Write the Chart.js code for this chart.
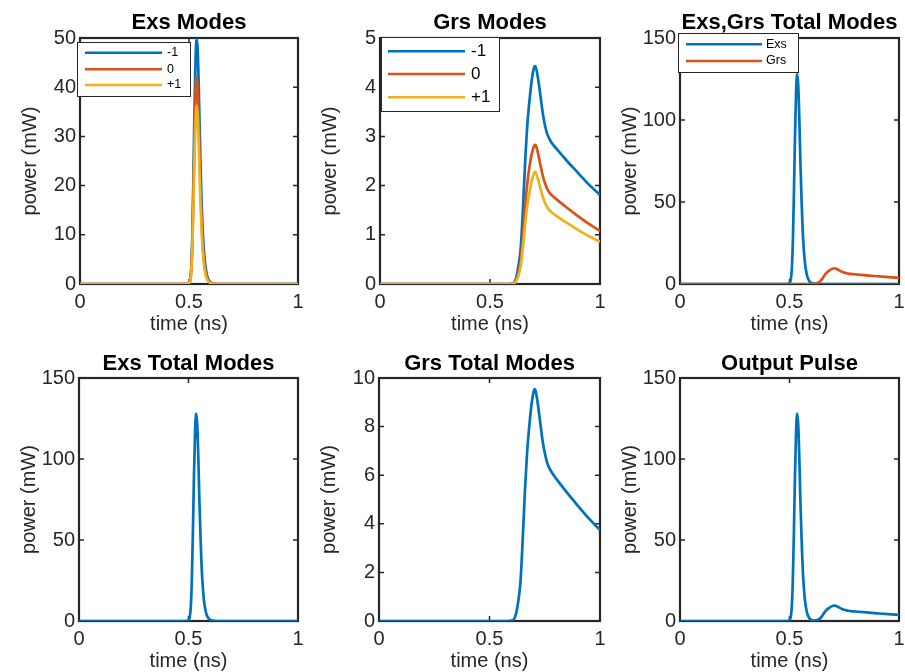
<!DOCTYPE html>
<html>
<head>
<meta charset="utf-8">
<title>Exs / Grs modes</title>
<script src="https://cdn.jsdelivr.net/npm/chart.js@4.4.1/dist/chart.umd.min.js"></script>
<style>
    html, body { margin: 0; padding: 0; background: #fff; overflow: hidden; }
    #figure { position: relative; width: 905px; height: 672px; overflow: hidden; }
    #figure canvas { position: absolute; }
</style>
</head>
<body>
<div id="figure"></div>
<script>
// time axis (ns), shared by every series
const time = [0, 0.1, 0.2, 0.3, 0.4, 0.45, 0.49,
    0.5, 0.505, 0.51, 0.515, 0.52, 0.525, 0.53, 0.535, 0.54, 0.545, 0.55, 0.555, 0.56,
    0.57, 0.58, 0.59, 0.6, 0.61, 0.62, 0.63, 0.64, 0.65, 0.66, 0.67, 0.68, 0.69, 0.7,
    0.705, 0.71, 0.72, 0.73, 0.74, 0.75, 0.76, 0.77, 0.78, 0.8, 0.85, 0.9, 0.95, 1];

// Exs modes (mW)
const exsMinus1 = [0, 0, 0, 0, 0, 0, 0,
    0.2, 0.8, 3, 9.5, 21, 35, 45.5, 49.8, 47.5, 39.5, 29.5, 21, 13.8,
    5.8, 2.3, 0.85, 0.3, 0.1, 0.03, 0, 0, 0, 0, 0, 0, 0, 0,
    0, 0, 0, 0, 0, 0, 0, 0, 0, 0, 0, 0, 0, 0];
const exsZero = [0, 0, 0, 0, 0, 0, 0,
    0.2, 0.7, 2.6, 8, 17.8, 29.5, 38.5, 42, 39.5, 32.5, 23.5, 16.3, 10.5,
    4.2, 1.6, 0.55, 0.18, 0.06, 0.02, 0, 0, 0, 0, 0, 0, 0, 0,
    0, 0, 0, 0, 0, 0, 0, 0, 0, 0, 0, 0, 0, 0];
const exsPlus1 = [0, 0, 0, 0, 0, 0, 0,
    0.2, 0.6, 2.2, 6.8, 15.2, 25.3, 33, 36.2, 34, 28, 20.3, 14, 9,
    3.5, 1.3, 0.45, 0.15, 0.05, 0.01, 0, 0, 0, 0, 0, 0, 0, 0,
    0, 0, 0, 0, 0, 0, 0, 0, 0, 0, 0, 0, 0, 0];
const exsTotal = [0, 0, 0, 0, 0, 0, 0,
    0.6, 2.1, 7.8, 24.3, 54, 89.8, 117, 128, 121, 100, 73.3, 51.3, 33.3,
    13.5, 5.2, 1.85, 0.63, 0.21, 0.06, 0, 0, 0, 0, 0, 0, 0, 0,
    0, 0, 0, 0, 0, 0, 0, 0, 0, 0, 0, 0, 0, 0];

// Grs modes (mW)
const grsMinus1 = [0, 0, 0, 0, 0, 0, 0,
    0, 0, 0, 0, 0, 0, 0, 0, 0, 0, 0, 0, 0,
    0, 0, 0, 0.01, 0.03, 0.14, 0.38, 0.75, 1.55, 2.5, 3.25, 3.75, 4.15, 4.4,
    4.43, 4.38, 4.13, 3.8, 3.47, 3.22, 3.05, 2.95, 2.87, 2.76, 2.5, 2.26, 2.02, 1.81];
const grsZero = [0, 0, 0, 0, 0, 0, 0,
    0, 0, 0, 0, 0, 0, 0, 0, 0, 0, 0, 0, 0,
    0, 0, 0, 0.006, 0.02, 0.09, 0.24, 0.48, 0.98, 1.58, 2.06, 2.4, 2.65, 2.8,
    2.83, 2.8, 2.62, 2.4, 2.2, 2.05, 1.93, 1.86, 1.81, 1.73, 1.55, 1.38, 1.22, 1.08];
const grsPlus1 = [0, 0, 0, 0, 0, 0, 0,
    0, 0, 0, 0, 0, 0, 0, 0, 0, 0, 0, 0, 0,
    0, 0, 0, 0.004, 0.01, 0.07, 0.18, 0.37, 0.77, 1.22, 1.6, 1.87, 2.1, 2.25,
    2.28, 2.24, 2.1, 1.93, 1.77, 1.65, 1.56, 1.5, 1.46, 1.39, 1.24, 1.1, 0.97, 0.86];
const grsTotal = [0, 0, 0, 0, 0, 0, 0,
    0, 0, 0, 0, 0, 0, 0, 0, 0, 0, 0, 0, 0,
    0, 0, 0, 0.02, 0.06, 0.3, 0.8, 1.6, 3.3, 5.3, 6.91, 8.02, 8.9, 9.45,
    9.54, 9.42, 8.85, 8.13, 7.44, 6.92, 6.54, 6.31, 6.14, 5.88, 5.29, 4.74, 4.21, 3.75];

// output pulse = Exs + Grs (mW)
const outputPulse = [0, 0, 0, 0, 0, 0, 0,
    0.6, 2.1, 7.8, 24.3, 54, 89.8, 117, 128, 121, 100, 73.3, 51.3, 33.3,
    13.5, 5.2, 1.85, 0.65, 0.27, 0.36, 0.8, 1.6, 3.3, 5.3, 6.91, 8.02, 8.9, 9.45,
    9.54, 9.42, 8.85, 8.13, 7.44, 6.92, 6.54, 6.31, 6.14, 5.88, 5.29, 4.74, 4.21, 3.75];

const modeLabels = ['-1', '0', '+1'];
const totalLabels = ['Exs', 'Grs'];
const xTickStep = 0.5;

const BLUE = '#0072BD';
const ORANGE = '#D95319';
const YELLOW = '#EDB120';
const INK = '#262626';
const FONT = '"Liberation Sans", Arial, Helvetica, sans-serif';

Chart.defaults.font.family = FONT;
Chart.defaults.color = INK;

// plain tick text: 0, 0.5, 1 (no trailing zeros)
const plainTick = v => String(Number(v.toFixed(3)));

// box with inward ticks on all four sides, drawn under the lines
const axesBox = {
    id: 'axesBox',
    beforeDatasetsDraw(chart) {
        const { ctx, chartArea: a, scales } = chart;
        ctx.save();
        ctx.strokeStyle = INK;
        ctx.lineWidth = 1.5;
        ctx.beginPath();
        scales.x.ticks.forEach(t => {
            const px = scales.x.getPixelForValue(t.value);
            ctx.moveTo(px, a.bottom); ctx.lineTo(px, a.bottom - 5);
            ctx.moveTo(px, a.top); ctx.lineTo(px, a.top + 5);
        });
        scales.y.ticks.forEach(t => {
            const py = scales.y.getPixelForValue(t.value);
            ctx.moveTo(a.left, py); ctx.lineTo(a.left + 5, py);
            ctx.moveTo(a.right, py); ctx.lineTo(a.right - 5, py);
        });
        ctx.stroke();
        ctx.lineWidth = 2.2;
        ctx.strokeRect(a.left, a.top, a.right - a.left, a.bottom - a.top);
        ctx.restore();
    }
};

// legend box inside the axes, like the original figure
function boxLegend(cfg) {
    return {
        id: 'boxLegend',
        afterDatasetsDraw(chart) {
            const { ctx, chartArea } = chart;
            const bx = chartArea.left + cfg.x;
            const by = chartArea.top + cfg.y;
            ctx.save();
            ctx.fillStyle = '#fff';
            ctx.fillRect(bx, by, cfg.w, cfg.h);
            ctx.strokeStyle = INK;
            ctx.lineWidth = 1;
            ctx.strokeRect(bx + 0.5, by + 0.5, cfg.w, cfg.h);
            ctx.font = cfg.fontSize + 'px ' + FONT;
            ctx.textBaseline = 'middle';
            ctx.textAlign = 'left';
            chart.data.datasets.forEach((ds, i) => {
                const ry = by + cfg.rows[i];
                ctx.strokeStyle = ds.borderColor;
                ctx.lineWidth = 2.5;
                ctx.beginPath();
                ctx.moveTo(bx + cfg.lineFrom, ry);
                ctx.lineTo(bx + cfg.lineTo, ry);
                ctx.stroke();
                ctx.fillStyle = '#000';
                ctx.fillText(ds.label, bx + cfg.textX, ry);
            });
            ctx.restore();
        }
    };
}

function makePanel(p) {
    const canvas = document.createElement('canvas');
    const width = p.w + 160;
    const height = 40 + p.h + 56;
    canvas.width = width;
    canvas.height = height;
    canvas.style.left = (p.left - 80) + 'px';
    canvas.style.top = (p.top - 40) + 'px';
    canvas.style.width = width + 'px';
    canvas.style.height = height + 'px';
    document.getElementById('figure').appendChild(canvas);

    const n = p.series.length;
    const datasets = p.series.map((s, i) => ({
        label: s.label,
        data: time.map((t, k) => ({ x: t, y: s.values[k] })),
        borderColor: s.color,
        backgroundColor: s.color,
        borderWidth: 2.7,
        pointRadius: 0,
        cubicInterpolationMode: 'monotone',
        fill: false,
        order: n - 1 - i
    }));

    const plugins = [axesBox];
    if (p.legend) plugins.push(boxLegend(p.legend));

    return new Chart(canvas, {
        type: 'line',
        data: { datasets },
        options: {
            responsive: false,
            animation: false,
            devicePixelRatio: 1,
            layout: { padding: 0 },
            plugins: {
                legend: { display: false },
                tooltip: { enabled: false },
                title: {
                    display: true,
                    text: p.title,
                    color: '#000',
                    font: { size: 22, weight: 'bold' },
                    padding: p.titlePad
                }
            },
            scales: {
                x: {
                    type: 'linear',
                    min: 0,
                    max: 1,
                    ticks: { stepSize: xTickStep, padding: 6, color: INK, font: { size: 20 }, maxRotation: 0, autoSkip: false, callback: plainTick },
                    grid: { display: false, drawTicks: false },
                    border: { display: false },
                    title: { display: true, text: 'time (ns)', color: INK, font: { size: 20 }, padding: { top: 0, bottom: 3.5 } },
                    afterFit: s => { s.height = 56; }
                },
                y: {
                    type: 'linear',
                    position: 'left',
                    min: 0,
                    max: p.yMax,
                    ticks: { stepSize: p.yStep, padding: 4, color: INK, font: { size: 20 }, autoSkip: false, callback: plainTick },
                    grid: { display: false, drawTicks: false },
                    border: { display: false },
                    title: { display: true, text: 'power (mW)', color: INK, font: { size: 20 }, padding: { top: 18, bottom: 0 } },
                    afterFit: s => { s.width = 80; }
                },
                yPad: {
                    type: 'linear',
                    position: 'right',
                    ticks: { display: false },
                    grid: { display: false, drawTicks: false },
                    border: { display: false },
                    afterFit: s => { s.width = 80; }
                }
            }
        },
        plugins
    });
}

const topTitlePad = { top: 12, bottom: 1.6 };
const bottomTitlePad = { top: 12.5, bottom: 1.1 };

makePanel({
    left: 80, top: 38, w: 218, h: 246, titlePad: topTitlePad,
    title: 'Exs Modes', yMax: 50, yStep: 10,
    series: [
        { label: modeLabels[0], values: exsMinus1, color: BLUE },
        { label: modeLabels[1], values: exsZero, color: ORANGE },
        { label: modeLabels[2], values: exsPlus1, color: YELLOW }
    ],
    legend: { x: -3, y: 4, w: 113, h: 54, rows: [10.7, 27.3, 43], lineFrom: 8, lineTo: 85, textX: 90, fontSize: 12.5 }
});

makePanel({
    left: 380, top: 38, w: 220, h: 246, titlePad: topTitlePad,
    title: 'Grs Modes', yMax: 5, yStep: 1,
    series: [
        { label: modeLabels[0], values: grsMinus1, color: BLUE },
        { label: modeLabels[1], values: grsZero, color: ORANGE },
        { label: modeLabels[2], values: grsPlus1, color: YELLOW }
    ],
    legend: { x: 1, y: -1, w: 118, h: 74, rows: [14.3, 37, 60.3], lineFrom: 7, lineTo: 84, textX: 90, fontSize: 17 }
});

makePanel({
    left: 680, top: 38, w: 219, h: 246, titlePad: topTitlePad,
    title: 'Exs,Grs Total Modes', yMax: 150, yStep: 50,
    series: [
        { label: totalLabels[0], values: exsTotal, color: BLUE },
        { label: totalLabels[1], values: grsTotal, color: ORANGE }
    ],
    legend: { x: -2, y: -5, w: 120, h: 39, rows: [11.3, 28], lineFrom: 8, lineTo: 84, textX: 88, fontSize: 12.5 }
});

makePanel({
    left: 79, top: 378, w: 219, h: 243, titlePad: bottomTitlePad,
    title: 'Exs Total Modes', yMax: 150, yStep: 50,
    series: [{ label: 'Exs', values: exsTotal, color: BLUE }]
});

makePanel({
    left: 379, top: 378, w: 221, h: 243, titlePad: bottomTitlePad,
    title: 'Grs Total Modes', yMax: 10, yStep: 2,
    series: [{ label: 'Grs', values: grsTotal, color: BLUE }]
});

makePanel({
    left: 680, top: 378, w: 219, h: 243, titlePad: bottomTitlePad,
    title: 'Output Pulse', yMax: 150, yStep: 50,
    series: [{ label: 'Output', values: outputPulse, color: BLUE }]
});
</script>
</body>
</html>
